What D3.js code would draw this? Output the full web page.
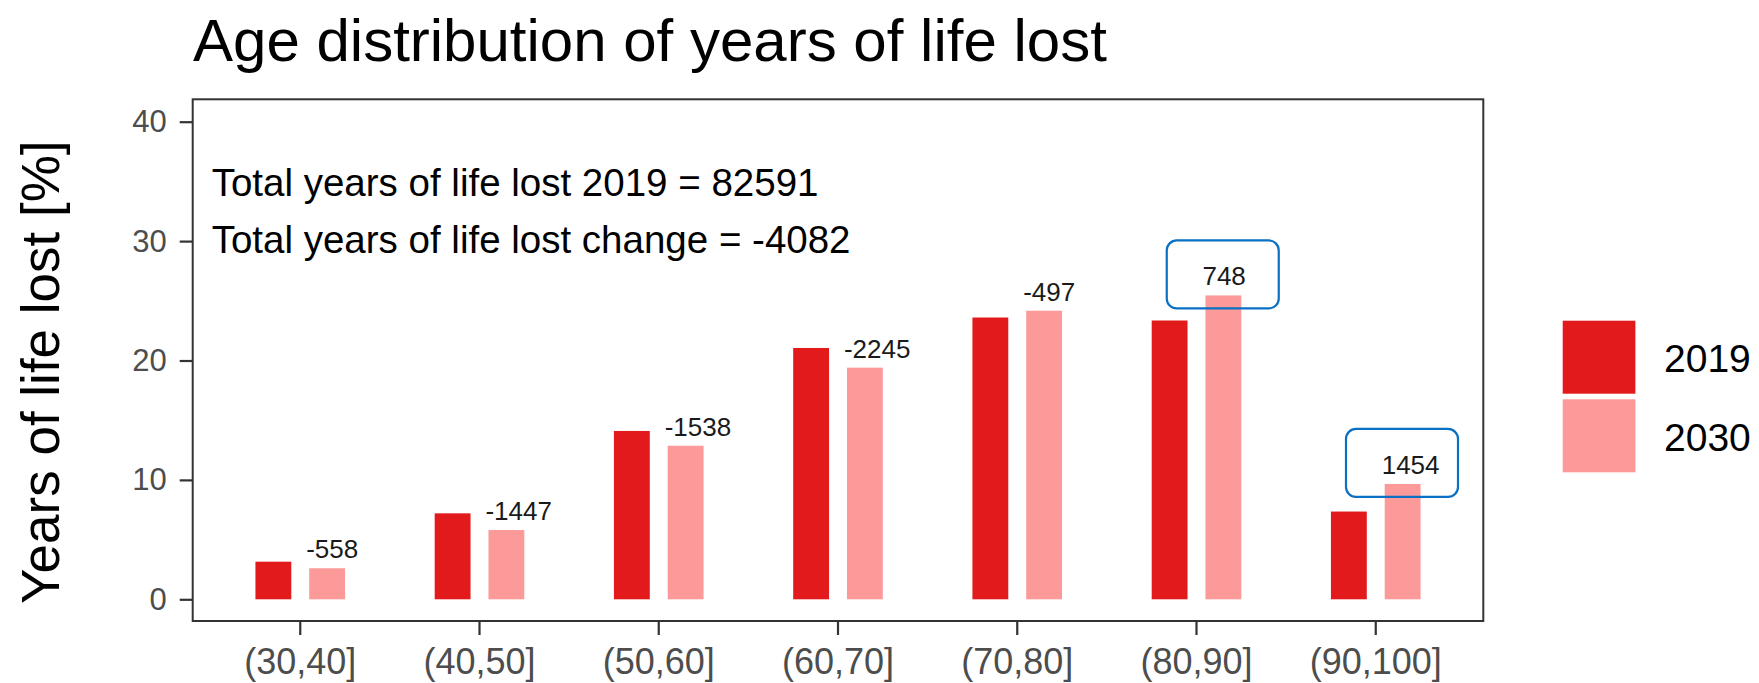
<!DOCTYPE html>
<html><head><meta charset="utf-8">
<script src="https://cdn.jsdelivr.net/npm/d3@7"></script>
<style>
body{margin:0;background:#fff}
svg{display:block}
text{font-family:"Liberation Sans",Arial,Helvetica,sans-serif}
</style>
</head><body>
<svg id="chart" width="1759" height="683"></svg>
<script>
// ---- data ----
const categories = ["(30,40]","(40,50]","(50,60]","(60,70]","(70,80]","(80,90]","(90,100]"];
const years = ["2019","2030"];
const values2019 = [3.15, 7.2, 14.1, 21.05, 23.6, 23.35, 7.35];
const values2030 = [2.6, 5.8, 12.86, 19.4, 24.17, 25.45, 9.66];
const changes = [-558, -1447, -1538, -2245, -497, 748, 1454];
const yTicks = [0, 10, 20, 30, 40];
const totalLines = ["Total years of life lost 2019 = 82591", "Total years of life lost change = -4082"];
const titleText = "Age distribution of years of life lost";
const yAxisTitle = "Years of life lost [%]";

// ---- styles / layout ----
const colors = {"2019": "#E31A1C", "2030": "#FB9A99"};
const panel = {left: 192.7, right: 1483.3, top: 99.3, bottom: 621};
const svg = d3.select("#chart");

const x = d3.scaleBand().domain(categories).range([panel.left, panel.right]).paddingInner(0).paddingOuter(0.1);
const step = x.step();
const xSub = d3.scaleBand().domain(years).range([-0.25 * step, 0.25 * step]).paddingInner(1/3);
const y = d3.scaleLinear().domain([0, 40]).range([599.3, 121.7]);

const rows = categories.map((c, i) => ({cat: c, v: {"2019": values2019[i], "2030": values2030[i]}, change: changes[i]}));

// bars
const g = svg.append("g");
rows.forEach(r => {
  const cx = x(r.cat) + x.bandwidth() / 2;
  years.forEach(yr => {
    g.append("rect")
      .attr("x", cx + xSub(yr))
      .attr("width", xSub.bandwidth())
      .attr("y", y(r.v[yr]))
      .attr("height", y(0) - y(r.v[yr]))
      .attr("fill", colors[yr]);
  });
});

// change labels
rows.forEach(r => {
  const cx = x(r.cat) + x.bandwidth() / 2;
  svg.append("text")
    .attr("x", cx + xSub("2030") - 3)
    .attr("y", y(r.v["2030"]) - 10)
    .attr("font-size", 26)
    .attr("fill", "#1a1a1a")
    .text(r.change);
});

// highlight boxes for positive changes
rows.filter(r => r.change > 0).forEach(r => {
  const cx = x(r.cat) + x.bandwidth() / 2;
  const top = y(r.v["2030"]);
  svg.append("rect")
    .attr("x", cx - 0.166 * step)
    .attr("width", 112)
    .attr("y", top - 55)
    .attr("height", 68)
    .attr("rx", 10).attr("ry", 10)
    .attr("fill", "none")
    .attr("stroke", "#0A70C4")
    .attr("stroke-width", 2.2);
});

// axes
const yAxis = svg.append("g")
  .attr("transform", `translate(${panel.left},0)`)
  .call(d3.axisLeft(y).tickValues(yTicks).tickSize(13).tickPadding(13));
const xAxis = svg.append("g")
  .attr("transform", `translate(0,${panel.bottom})`)
  .call(d3.axisBottom(x).tickSize(14).tickPadding(13.4));
[yAxis, xAxis].forEach(a => {
  a.select(".domain").remove();
  a.selectAll(".tick line").attr("stroke", "#333333").attr("stroke-width", 2.2);
  a.selectAll(".tick text").attr("fill", "#4D4D4D").attr("font-family", null);
});
yAxis.selectAll(".tick text").attr("font-size", 31);
xAxis.selectAll(".tick text").attr("font-size", 36);

// panel border
svg.append("rect")
  .attr("x", panel.left).attr("y", panel.top)
  .attr("width", panel.right - panel.left).attr("height", panel.bottom - panel.top)
  .attr("fill", "none").attr("stroke", "#333333").attr("stroke-width", 2);

// totals text
totalLines.forEach((t, i) => {
  svg.append("text")
    .attr("x", 211.7).attr("y", 196 + i * 57)
    .attr("font-size", 38.5).attr("fill", "#000")
    .text(t);
});

// title
svg.append("text").attr("x", 193).attr("y", 61)
  .attr("font-size", 60).attr("fill", "#000").text(titleText);

// y axis title
svg.append("text")
  .attr("transform", `translate(59,${(panel.top + panel.bottom) / 2 + 12}) rotate(-90)`)
  .attr("text-anchor", "middle")
  .attr("font-size", 53).attr("fill", "#000")
  .text(yAxisTitle);

// legend
const legend = svg.append("g").attr("transform", "translate(1562.7,320.7)");
years.forEach((yr, i) => {
  legend.append("rect")
    .attr("x", 0).attr("y", i * 78.6)
    .attr("width", 72.7).attr("height", 73)
    .attr("fill", colors[yr]);
  legend.append("text")
    .attr("x", 101.3).attr("y", i * 79 + 51)
    .attr("font-size", 39).attr("fill", "#000")
    .text(yr);
});
</script>
</body></html>
